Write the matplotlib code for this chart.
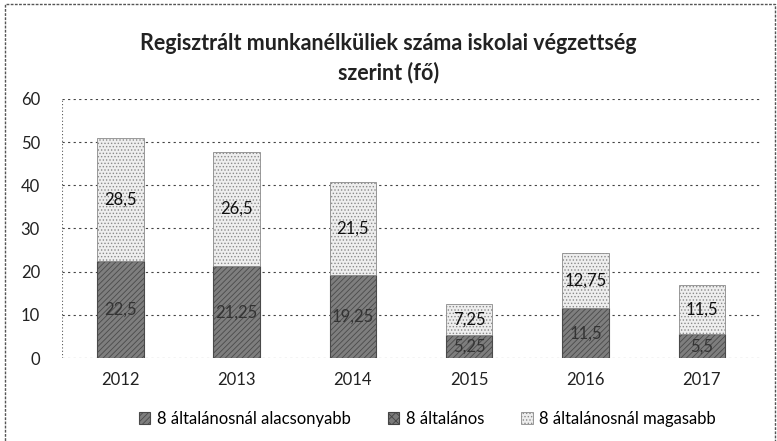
import matplotlib
matplotlib.use('Agg')
import matplotlib.pyplot as plt
import numpy as np
from matplotlib.patches import Rectangle

plt.rcParams['font.family'] = ['Lato', 'DejaVu Sans']
plt.rcParams['hatch.linewidth'] = 0.6

years = ['2012', '2013', '2014', '2015', '2016', '2017']
lower = [22.5, 21.25, 19.25, 5.25, 11.5, 5.5]       # 8 általánosnál alacsonyabb
middle = [0, 0, 0, 0, 0, 0]                          # 8 általános
higher = [28.5, 26.5, 21.5, 7.25, 12.75, 11.5]      # 8 általánosnál magasabb
series_names = ['8 általánosnál alacsonyabb', '8 általános', '8 általánosnál magasabb']
title = 'Regisztrált munkanélküliek száma iskolai végzettség\nszerint (fő)'


def fmt(v):
    return f'{v:g}'.replace('.', ',')


fig = plt.figure(figsize=(7.77, 4.41), dpi=100)
ax = fig.add_axes([0.08, 0.188, 0.898, 0.588])

x = np.arange(len(years))
w = 0.4
b1 = ax.bar(x, lower, w, color='#7e7e7e', edgecolor='#4a4a4a', hatch='//////',
            linewidth=0.8, label=series_names[0], zorder=3)
b2 = ax.bar(x, middle, w, bottom=lower, color='#7a7a7a', edgecolor='#444444',
            hatch='xxxx', linewidth=0.8, label=series_names[1], zorder=3)
bottom2 = np.array(lower) + np.array(middle)
b3 = ax.bar(x, higher, w, bottom=bottom2, color='#eeeeee', edgecolor='#8a8a8a',
            hatch='.....', linewidth=0.6, label=series_names[2], zorder=3)

ax.bar_label(b1, labels=[fmt(v) for v in lower], label_type='center',
             fontsize=12, color='#333333', zorder=5)
ax.bar_label(b3, labels=[fmt(v) for v in higher], label_type='center',
             fontsize=12, color='#111111', zorder=5)

ax.set_ylim(0, 60)
ax.set_yticks(range(0, 61, 10))
ax.set_xlim(-0.5, len(years) - 0.5)
ax.set_xticks(x)
ax.set_xticklabels(years)
ax.tick_params(axis='both', length=0, labelsize=12, colors='#222222')
ax.tick_params(axis='y', pad=16)
ax.tick_params(axis='x', pad=10)
ax.yaxis.grid(True, color='#444444', linestyle=(0, (2, 3)), linewidth=0.8, zorder=0)
for s in ax.spines.values():
    s.set_visible(False)
ax.axvline(-0.5, color='#555555', linestyle=(0, (1, 2)), linewidth=0.8)

fig.text(0.5, 0.868, title, ha='center', va='center', fontsize=15.5,
         fontweight='bold', color='#222222', linespacing=1.4)

fig.legend(handles=[b1, b2, b3], loc='center', bbox_to_anchor=(0.55, 0.05),
           ncol=3, frameon=False, fontsize=12, handlelength=0.7,
           handleheight=0.7, columnspacing=2.2, handletextpad=0.4)

fig.patches.append(Rectangle((0.007, -0.01), 0.99, 1.0, transform=fig.transFigure,
                             fill=False, edgecolor='#555555', linestyle=(0, (2, 1)),
                             linewidth=1.0))

fig.savefig('out.png', dpi=100)
